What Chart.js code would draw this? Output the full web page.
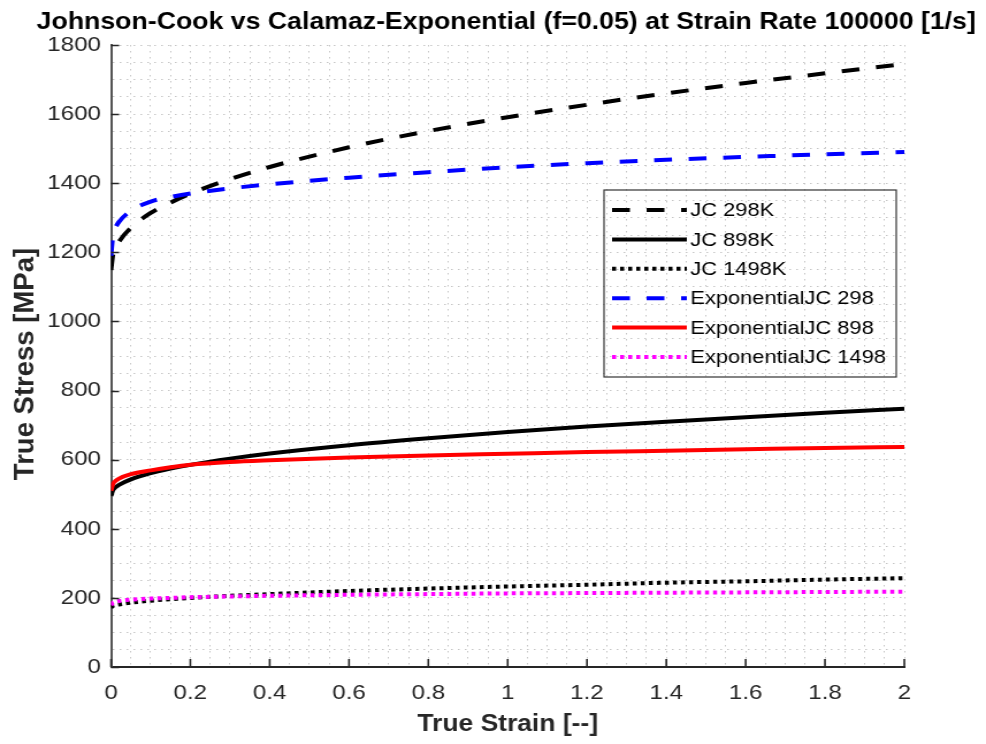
<!DOCTYPE html>
<html>
<head>
<meta charset="utf-8">
<script src="https://cdn.jsdelivr.net/npm/chart.js@4"></script>
<style>
  html, body { margin: 0; padding: 0; background: #fff; overflow: hidden; }
  #wrap { width: 857px; height: 744px; transform: scaleX(1.1505); transform-origin: 0 0; }
</style>
</head>
<body>
<div id="wrap"><canvas id="c" width="857" height="744"></canvas></div>
<script>
// 応力-ひずみ曲線 (ひずみ速度 1e5 /s)
const strain = [0, 0.005, 0.01, 0.02, 0.05, 0.1, 0.15, 0.2, 0.3, 0.4, 0.6, 0.8, 1.0, 1.2, 1.4, 1.6, 1.8, 2.0];
const jc298   = [1149, 1194, 1210, 1231, 1271, 1314, 1344, 1370, 1412, 1447, 1504, 1551, 1591, 1627, 1660, 1690, 1718, 1745];
const jc898   = [495, 512, 519, 527, 543, 561, 574, 585, 603, 618, 642, 662, 680, 696, 710, 723, 736, 747];
const jc1498  = [172, 177, 179, 181, 186, 192, 196, 200, 206, 211, 220, 227, 233, 238, 244, 248, 253, 257];
const exp298  = [1190, 1250, 1268, 1288, 1320, 1347, 1360, 1370, 1385, 1397, 1416, 1432, 1446, 1458, 1468, 1476, 1484, 1490];
const exp898  = [510, 530, 537, 545, 558, 569, 578, 585, 593, 598, 606, 612, 617, 622, 626, 630, 634, 637];
const exp1498 = [179, 186, 188, 191, 195, 198, 200, 202, 204, 206, 209, 211, 213, 214, 215, 216, 217, 218];

const FONT = "'Liberation Sans', Arial, Helvetica, sans-serif";
const DASH = [15.5, 14.5], DOT = [3.5, 3.5];

const series = [
  { label: 'JC 298K',            v: jc298,   color: '#000000', dash: DASH },
  { label: 'JC 898K',            v: jc898,   color: '#000000', dash: [] },
  { label: 'JC 1498K',           v: jc1498,  color: '#000000', dash: DOT },
  { label: 'ExponentialJC 298',  v: exp298,  color: '#0000ff', dash: DASH },
  { label: 'ExponentialJC 898',  v: exp898,  color: '#ff0000', dash: [] },
  { label: 'ExponentialJC 1498', v: exp1498, color: '#ff00ff', dash: DOT },
];

const isMajor = (v, step) => Math.abs(v / step - Math.round(v / step)) < 1e-6;

// 内向きの目盛り・凡例・タイトル類
const extras = {
  id: 'extras',
  afterDraw(chart) {
    const { ctx, chartArea: a, scales: { x, y } } = chart;
    ctx.save();
    ctx.strokeStyle = '#262626';
    ctx.lineWidth = 1.6;
    ctx.beginPath();
    y.ticks.forEach(t => {
      if (!isMajor(t.value, 200)) return;
      const py = Math.round(y.getPixelForValue(t.value)) + 0.5;
      ctx.moveTo(a.left, py); ctx.lineTo(a.left + 7, py);
    });
    x.ticks.forEach(t => {
      if (!isMajor(t.value, 0.2)) return;
      const px = x.getPixelForValue(t.value);
      ctx.moveTo(px, a.bottom); ctx.lineTo(px, a.bottom - 8);
    });
    ctx.stroke();

    // legend
    const L = 525, R = 779, T = 190, B = 377;
    ctx.lineWidth = 1.2;
    ctx.strokeStyle = '#333';
    ctx.strokeRect(L, T, R - L, B - T);
    ctx.font = '19px ' + FONT;
    ctx.textBaseline = 'middle';
    ctx.fillStyle = '#000';
    chart.data.datasets.forEach((ds, i) => {
      const ry = 210 + i * 29.4;
      ctx.save();
      ctx.strokeStyle = ds.borderColor;
      ctx.lineWidth = 4;
      ctx.setLineDash(ds.borderDash);
      ctx.beginPath(); ctx.moveTo(532, ry); ctx.lineTo(597, ry); ctx.stroke();
      ctx.restore();
      ctx.fillText(ds.label, 600, ry + 1);
    });

    // title
    ctx.font = 'bold 23.2px ' + FONT;
    ctx.textAlign = 'center';
    ctx.fillText('Johnson-Cook vs Calamaz-Exponential (f=0.05) at Strain Rate 100000 [1/s]', 440, 23);

    // y axis title (narrowed so the stretched canvas keeps it slim)
    ctx.save();
    ctx.translate(20, 364);
    ctx.scale(0.885, 1);
    ctx.rotate(-Math.PI / 2);
    ctx.font = 'bold 27.5px ' + FONT;
    ctx.textBaseline = 'alphabetic';
    ctx.fillStyle = '#262626';
    ctx.fillText('True Stress [MPa]', 0, 9.8);
    ctx.restore();
    ctx.restore();
  }
};

new Chart(document.getElementById('c'), {
  type: 'line',
  data: {
    datasets: series.map((s, i) => ({
      label: s.label,
      data: strain.map((e, k) => ({ x: e, y: s.v[k] })),
      borderColor: s.color,
      backgroundColor: s.color,
      borderDash: s.dash,
      borderWidth: 4,
      borderCapStyle: 'butt',
      pointRadius: 0,
      cubicInterpolationMode: 'monotone',
      order: series.length - i,
    })),
  },
  options: {
    responsive: false,
    animation: false,
    layout: { padding: { top: 45, right: 71, left: 0, bottom: 0 } },
    plugins: { legend: { display: false }, tooltip: { enabled: false }, title: { display: false } },
    scales: {
      x: {
        type: 'linear', min: 0, max: 2,
        afterFit: s => { s.height = 77; },
        grid: { color: '#c6c6c6', lineWidth: 1, drawTicks: false },
        border: { display: true, color: '#262626', width: 2, dash: [1.5, 4.5] },
        ticks: {
          stepSize: 0.05, maxTicksLimit: 100, autoSkip: false, maxRotation: 0,
          padding: 14, color: '#262626', font: { family: FONT, size: 21 },
          callback: v => isMajor(v, 0.2) ? String(Math.round(v * 10) / 10) : '',
        },
        title: { display: true, text: 'True Strain [--]', color: '#262626', font: { family: FONT, size: 23, weight: 'bold' }, padding: { top: 0, bottom: 5.5 } },
      },
      y: {
        type: 'linear', min: 0, max: 1800,
        afterFit: s => { s.width = 96.5; },
        grid: { color: '#c6c6c6', lineWidth: 1, drawTicks: false },
        border: { display: true, color: '#555', width: 2, dash: [1.5, 4.5] },
        ticks: {
          stepSize: 50, maxTicksLimit: 100, autoSkip: false,
          padding: 8.7, color: '#262626', font: { family: FONT, size: 21 },
          callback: v => isMajor(v, 200) ? String(v) : '',
        },
        title: { display: false },
      },
    },
  },
  plugins: [extras],
});
</script>
</body>
</html>
